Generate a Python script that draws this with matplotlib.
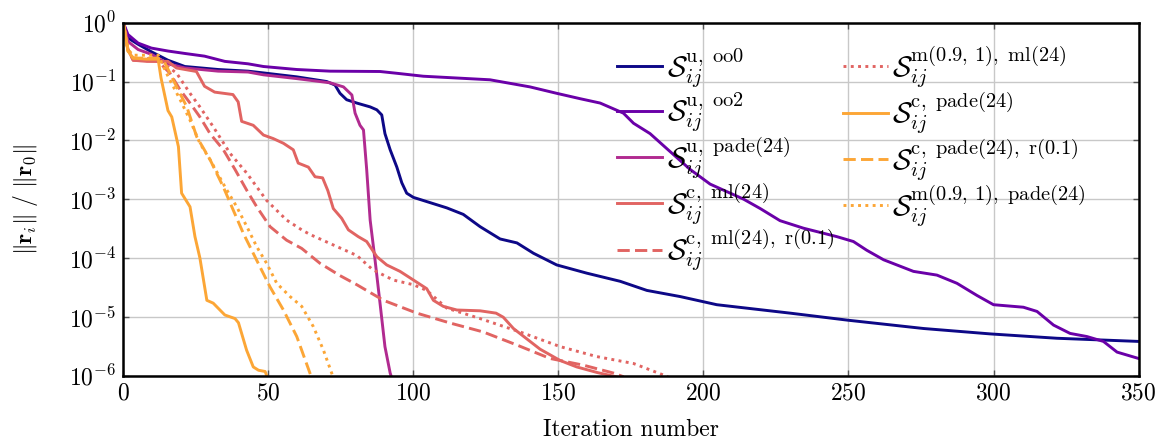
import matplotlib
matplotlib.use("Agg")
import matplotlib.pyplot as plt
from matplotlib.ticker import LogLocator, NullLocator, LogFormatterSciNotation, FixedLocator

plt.rcParams.update({
    "font.family": "serif",
    "font.serif": ["cmr10", "DejaVu Serif"],
    "mathtext.fontset": "cm",
    "axes.formatter.use_mathtext": True,
    "axes.unicode_minus": False,
    "font.size": 17,
})

# Residual histories (iteration, relative residual norm)
it_u_oo0 = [0, 1.6, 5.1, 9.7, 15.4, 21.2, 32.7, 43, 48.3, 59.8, 70.1, 73, 74.7, 77, 80.5, 85.1,
            87.4, 89.1, 90.2, 92, 94.3, 96, 97.7, 100, 105.8, 111.5, 117.2, 123, 129.9, 135.7,
            141.4, 149.4, 159.8, 171.3, 180.5, 192, 204.6, 229.9, 250, 275.9, 298.9, 321.9, 350]
res_u_oo0 = [1.0, 0.55, 0.43, 0.32, 0.23, 0.18, 0.16, 0.15, 0.14, 0.12, 0.10, 8.7e-2, 6.3e-2,
             4.9e-2, 4.3e-2, 3.7e-2, 3.3e-2, 2.7e-2, 1.3e-2, 6.9e-3, 3.5e-3, 1.9e-3, 1.26e-3,
             1.07e-3, 8.7e-4, 7.1e-4, 5.5e-4, 3.4e-4, 2.1e-4, 1.8e-4, 1.2e-4, 7.6e-5, 5.5e-5,
             4.0e-5, 2.8e-5, 2.2e-5, 1.6e-5, 1.15e-5, 8.7e-6, 6.3e-6, 5.1e-6, 4.3e-6, 3.8e-6]

it_u_oo2 = [0, 1.6, 5.1, 9.7, 15.4, 21.2, 28, 35, 43, 48.3, 59.8, 71.3, 88.5, 94.3, 103.4,
            126.4, 140.2, 149.4, 157.5, 164.4, 172.4, 175.9, 181.6, 187.4, 195.4, 202.3, 213.8,
            219.6, 226.4, 234.5, 246, 251.7, 256.3, 262.1, 272.4, 280.5, 287.4, 294.3, 300,
            310.3, 315, 320.7, 326.4, 332.2, 337.9, 342.6, 350]
res_u_oo2 = [1.0, 0.63, 0.45, 0.37, 0.33, 0.30, 0.27, 0.22, 0.20, 0.18, 0.16, 0.15, 0.148,
             0.138, 0.123, 0.107, 8.1e-2, 6.3e-2, 5.1e-2, 4.3e-2, 2.9e-2, 1.95e-2, 1.3e-2,
             7.2e-3, 3.2e-3, 1.8e-3, 1.0e-3, 6.9e-4, 4.3e-4, 3.2e-4, 2.3e-4, 1.9e-4, 1.35e-4,
             9.3e-5, 5.9e-5, 5.1e-5, 3.7e-5, 2.3e-5, 1.6e-5, 1.45e-5, 1.23e-5, 7.2e-6, 5.2e-6,
             4.6e-6, 3.8e-6, 2.5e-6, 1.95e-6]

it_u_pade = [0, 1.6, 5.1, 9.7, 15.4, 21.2, 32.7, 43, 48.3, 59.8, 71.3, 75.9, 78.8, 79.9, 81.6,
             82.8, 83.9, 85.1, 86.8, 88.5, 90.2, 92, 92.6]
res_u_pade = [1.0, 0.48, 0.35, 0.29, 0.20, 0.17, 0.15, 0.145, 0.13, 0.112, 9.5e-2, 8.1e-2,
              5.9e-2, 2.9e-2, 1.8e-2, 1.5e-2, 3.2e-3, 4.4e-4, 9.1e-5, 1.7e-5, 3.1e-6, 1.1e-6,
              8.9e-7]

it_c_ml = [0, 1.6, 3.4, 8, 15.4, 18.3, 25.2, 28, 31.5, 37.8, 39.6, 40.8, 44.8, 48.3, 51.7,
           55.2, 58.6, 60.3, 63.8, 66.1, 68.7, 70.5, 72.4, 75.3, 77.6, 81, 83.9, 87.4, 90.8,
           95.4, 99.4, 104.6, 106.9, 110.3, 115, 123, 128.5, 131, 134.5, 139.1, 143.7, 150.6,
           156.3, 163.5, 170]
res_c_ml = [1.0, 0.35, 0.23, 0.22, 0.22, 0.17, 0.148, 8.3e-2, 6.6e-2, 6.0e-2, 4.5e-2, 2.1e-2,
            1.8e-2, 1.23e-2, 1.07e-2, 8.9e-3, 6.9e-3, 4.1e-3, 3.5e-3, 2.4e-3, 2.3e-3, 1.4e-3,
            6.9e-4, 4.7e-4, 3.0e-4, 2.3e-4, 1.9e-4, 1.05e-4, 7.6e-5, 5.9e-5, 4.4e-5, 3.0e-5,
            1.9e-5, 1.5e-5, 1.3e-5, 1.26e-5, 1.15e-5, 9.8e-6, 6.3e-6, 4.2e-6, 2.8e-6, 1.8e-6,
            1.4e-6, 1.12e-6, 9.5e-7]

it_c_ml_r = [0, 1.6, 3.4, 12, 16.1, 19.6, 23, 26.4, 29.9, 34.5, 38.5, 42.6, 46, 50.6, 56.3,
             61.5, 67.8, 74.7, 80.5, 89.7, 101.2, 112.7, 124.1, 135.7, 147.1, 158.6, 169, 172.5]
res_c_ml_r = [1.0, 0.35, 0.23, 0.22, 0.138, 7.2e-2, 4.3e-2, 2.5e-2, 1.3e-2, 6.9e-3, 3.2e-3,
              1.4e-3, 7.4e-4, 3.4e-4, 2.0e-4, 1.45e-4, 8.1e-5, 5.0e-5, 3.5e-5, 1.9e-5, 1.15e-5,
              7.8e-6, 5.5e-6, 3.3e-6, 1.95e-6, 1.5e-6, 1.1e-6, 9.5e-7]

it_m_ml = [0, 1.6, 3.4, 12, 18.4, 23, 26.4, 31, 36.8, 42.6, 49.4, 56.3, 61.5, 64.4, 72.4, 80.5,
           86, 93.1, 100, 104.6, 111.5, 123, 136.8, 150.6, 163.2, 175.9, 187.8]
res_m_ml = [1.0, 0.35, 0.25, 0.24, 0.138, 6.3e-2, 3.7e-2, 1.7e-2, 6.0e-3, 2.75e-3, 9.5e-4,
            4.4e-4, 3.0e-4, 2.5e-4, 1.66e-4, 1.1e-4, 6.3e-5, 4.2e-5, 3.5e-5, 2.8e-5, 1.4e-5,
            9.3e-6, 5.5e-6, 3.1e-6, 2.1e-6, 1.6e-6, 9.5e-7]

it_c_pade = [0, 1.6, 3.4, 8, 12, 13, 15.4, 16.7, 19, 20.1, 23, 24.7, 26.4, 28.8, 31, 35, 38.5,
             39.7, 42.5, 44.8, 46.6, 48.9, 49.8]
res_c_pade = [1.0, 0.33, 0.25, 0.24, 0.24, 0.115, 3.2e-2, 2.5e-2, 7.8e-3, 1.26e-3, 7.4e-4,
              2.3e-4, 1.0e-4, 1.9e-5, 1.7e-5, 1.07e-5, 9.3e-6, 7.9e-6, 2.7e-6, 1.4e-6, 1.23e-6,
              1.17e-6, 8.9e-7]

it_c_pade_r = [0, 1.6, 3.4, 12, 14.5, 18.4, 21.9, 25.3, 29.9, 34.5, 37.9, 41.4, 46, 50.6, 55.2,
               59.8, 64.8]
res_c_pade_r = [1.0, 0.33, 0.25, 0.25, 0.20, 8.1e-2, 3.7e-2, 1.15e-2, 4.7e-3, 1.6e-3, 6.5e-4,
                2.6e-4, 9.1e-5, 3.2e-5, 1.3e-5, 4.6e-6, 9.5e-7]

it_m_pade = [0, 1.6, 3.4, 12, 15.5, 19.6, 23, 26.4, 29.9, 35.1, 39.1, 42.6, 46, 49.4, 52.9,
             57.5, 61.5, 65.5, 69, 72.3]
res_m_pade = [1.0, 0.35, 0.28, 0.28, 0.12, 4.9e-2, 2.2e-2, 8.9e-3, 4.7e-3, 1.6e-3, 7.4e-4,
              3.4e-4, 1.55e-4, 8.1e-5, 3.7e-5, 2.2e-5, 1.5e-5, 6.8e-6, 2.7e-6, 9.5e-7]

labels = [
    r"$\mathcal{S}_{ij}^{\mathrm{u,\ oo0}}$",
    r"$\mathcal{S}_{ij}^{\mathrm{u,\ oo2}}$",
    r"$\mathcal{S}_{ij}^{\mathrm{u,\ pade(24)}}$",
    r"$\mathcal{S}_{ij}^{\mathrm{c,\ ml(24)}}$",
    r"$\mathcal{S}_{ij}^{\mathrm{c,\ ml(24),\ r(0.1)}}$",
    r"$\mathcal{S}_{ij}^{\mathrm{m(0.9,\,1),\ ml(24)}}$",
    r"$\mathcal{S}_{ij}^{\mathrm{c,\ pade(24)}}$",
    r"$\mathcal{S}_{ij}^{\mathrm{c,\ pade(24),\ r(0.1)}}$",
    r"$\mathcal{S}_{ij}^{\mathrm{m(0.9,\,1),\ pade(24)}}$",
]

navy, violet, magenta, coral, amber = "#0d0887", "#6a00a8", "#b12a90", "#e16462", "#fca636"
dash = (4.2, 1.8)
dot = (1.0, 1.5)

series = [
    (it_u_oo0, res_u_oo0, navy, None),
    (it_u_oo2, res_u_oo2, violet, None),
    (it_u_pade, res_u_pade, magenta, None),
    (it_c_ml, res_c_ml, coral, None),
    (it_c_ml_r, res_c_ml_r, coral, dash),
    (it_m_ml, res_m_ml, coral, dot),
    (it_c_pade, res_c_pade, amber, None),
    (it_c_pade_r, res_c_pade_r, amber, dash),
    (it_m_pade, res_m_pade, amber, dot),
]

fig = plt.figure(figsize=(11.6, 4.41), dpi=100)
ax = fig.add_axes([0.1063, 0.1485, 0.8752, 0.8000])

for (x, y, c, ls), lab in zip(series, labels):
    line, = ax.semilogy(x, y, color=c, lw=2.1, label=lab, solid_joinstyle="round")
    if ls is not None:
        line.set_dashes(ls)

ax.set_xlim(0, 350)
ax.set_ylim(1e-6, 1)
ax.xaxis.set_major_locator(FixedLocator([0, 50, 100, 150, 200, 250, 300, 350]))
ax.yaxis.set_major_locator(LogLocator(base=10, numticks=10))
ax.yaxis.set_minor_locator(NullLocator())
ax.yaxis.set_major_formatter(LogFormatterSciNotation())
ax.xaxis.get_offset_text().set_visible(False)
ax.yaxis.get_offset_text().set_visible(False)

ax.grid(True, which="major", color="#c8c8c8", lw=1.0)
ax.set_axisbelow(True)
ax.tick_params(which="major", direction="in", length=4, width=1, color="#555555",
               top=True, right=True, labelsize=17, pad=5)
for s in ax.spines.values():
    s.set_linewidth(1.8)
    s.set_color("black")

ax.set_xlabel("Iteration number", fontsize=17, labelpad=10)
ax.set_ylabel(r"$\Vert\mathbf{r}_i\Vert\ /\ \Vert\mathbf{r}_0\Vert$", fontsize=17, labelpad=21)

leg = ax.legend(loc="upper left", bbox_to_anchor=(0.475, 0.972), ncol=2, frameon=False,
                fontsize=21, handlelength=1.55, handletextpad=0.15, columnspacing=0.3,
                labelspacing=0.02, borderaxespad=0.0)

fig.savefig("out.png", dpi=100)
